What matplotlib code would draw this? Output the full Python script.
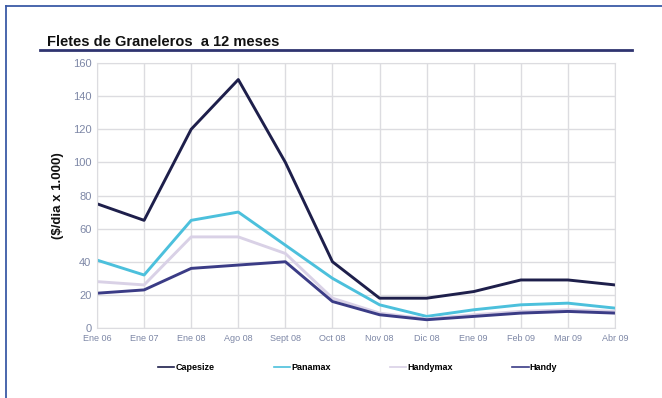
import matplotlib.pyplot as plt
from matplotlib.lines import Line2D

plt.rcParams['font.family'] = ['Liberation Sans', 'DejaVu Sans']

meses = ['Ene 06', 'Ene 07', 'Ene 08', 'Ago 08', 'Sept 08', 'Oct 08',
         'Nov 08', 'Dic 08', 'Ene 09', 'Feb 09', 'Mar 09', 'Abr 09']
capesize = [75, 65, 120, 150, 100, 40, 18, 18, 22, 29, 29, 26]
panamax = [41, 32, 65, 70, 50, 30, 14, 7, 11, 14, 15, 12]
handymax = [28, 26, 55, 55, 45, 18, 9, 5.5, 8, 10, 11, 10]
handy = [21, 23, 36, 38, 40, 16, 8, 5, 7, 9, 10, 9]

series = [('Capesize', capesize, '#1e1f4b'),
          ('Panamax', panamax, '#4cc0dc'),
          ('Handymax', handymax, '#d9d1e6'),
          ('Handy', handy, '#3b3c86')]

fig = plt.figure(figsize=(6.62, 3.98), dpi=100)
fig.patch.set_facecolor('white')

# marco exterior (solo borde superior e izquierdo)
borde = '#3a5aa6'
fig.lines.append(Line2D([6/662, 1.0], [1 - 6/398, 1 - 6/398], transform=fig.transFigure,
                        color=borde, linewidth=1.3))
fig.lines.append(Line2D([6/662, 6/662], [0, 1 - 6/398], transform=fig.transFigure,
                        color=borde, linewidth=1.3))

fig.text(47/662, 1 - 42/398, 'Fletes de Graneleros  a 12 meses', fontsize=10.5,
         fontweight='bold', color='#111111', va='center', ha='left')
fig.lines.append(Line2D([40/662, 632/662], [1 - 50/398, 1 - 50/398], transform=fig.transFigure,
                        color='#2f3470', linewidth=2))

ax = fig.add_axes([97/662, 70/398, 518/662, 265/398])
x = list(range(len(meses)))
for nombre, valores, color in series:
    ax.plot(x, valores, color=color, linewidth=2.1, label=nombre)

ax.set_xlim(0, len(meses) - 1)
ax.set_ylim(0, 160)
ax.set_yticks(range(0, 161, 20))
ax.set_xticks(x)
ax.set_xticklabels(meses)
ax.grid(True, color='#dcdce0', linewidth=1)
ax.set_axisbelow(True)
for s in ax.spines.values():
    s.set_color('#dcdce0')
ax.tick_params(length=0, colors='#7d87a6', labelsize=8, pad=4)
ax.tick_params(axis='x', labelsize=6.5)
ax.set_ylabel('($/dia x 1.000)', fontsize=9.5, fontweight='bold', color='#111111', labelpad=6)

leg = fig.legend(loc='center left', bbox_to_anchor=(150/662, 1 - 368/398), ncol=4, frameon=False,
                 handlelength=1.8, handletextpad=0.1, columnspacing=6.6,
                 prop={'weight': 'bold', 'size': 6.5})
for h in leg.get_lines():
    h.set_linewidth(1.2)

fig.savefig('out.png', dpi=100)
